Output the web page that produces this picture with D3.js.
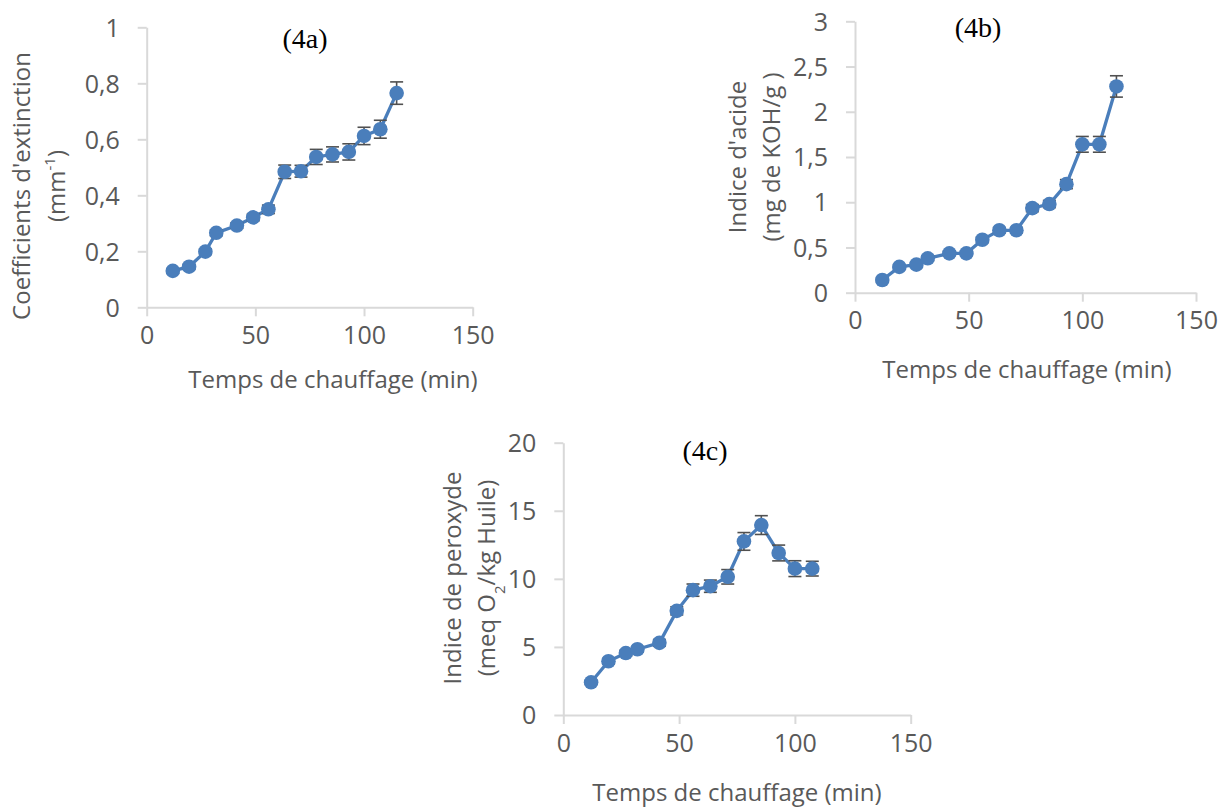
<!DOCTYPE html>
<html>
<head>
<meta charset="utf-8">
<script src="https://cdn.jsdelivr.net/npm/d3@7/dist/d3.min.js"></script>
<style>
  html, body { margin: 0; padding: 0; background: #fff; }
  svg { display: block; }
  text { font-family: "Open Sans", sans-serif; fill: #595959; }
  .panel-title { font-family: "Liberation Serif", serif; fill: #000; }
</style>
</head>
<body>
<svg id="chart" width="1220" height="807"></svg>
<script>
// heating time (min) shared by the three series
const times = [12, 19.5, 27, 32, 41.5, 49, 56, 63.5, 71, 78, 85.5, 93, 100, 107.5, 115];

// (4a) extinction coefficients
const extinction    = [0.13, 0.145, 0.199, 0.266, 0.292, 0.321, 0.35, 0.484, 0.486, 0.537, 0.546, 0.555, 0.612, 0.636, 0.765];
const extinctionErr = [0.008, 0.008, 0.01, 0.01, 0.01, 0.012, 0.015, 0.024, 0.021, 0.027, 0.027, 0.029, 0.031, 0.032, 0.04];

// (4b) acid value
const acid    = [0.14, 0.285, 0.31, 0.38, 0.435, 0.435, 0.585, 0.69, 0.69, 0.935, 0.98, 1.2, 1.64, 1.64, 2.28];
const acidErr = [0.02, 0.02, 0.02, 0.025, 0.025, 0.025, 0.03, 0.03, 0.03, 0.04, 0.04, 0.05, 0.087, 0.087, 0.118];

// (4c) peroxide value (no value at 115 min)
const peroxide    = [2.4, 3.95, 4.55, 4.83, 5.3, 7.65, 9.17, 9.46, 10.15, 12.75, 13.95, 11.9, 10.75, 10.75];
const peroxideErr = [0.15, 0.2, 0.2, 0.2, 0.25, 0.3, 0.45, 0.45, 0.53, 0.65, 0.69, 0.58, 0.58, 0.54];

const xTicks = [0, 50, 100, 150];
const yTicksA = [0, 0.2, 0.4, 0.6, 0.8, 1];
const yTicksB = [0, 0.5, 1, 1.5, 2, 2.5, 3];
const yTicksC = [0, 5, 10, 15, 20];

const fr = d3.formatLocale({decimal: ",", thousands: " ", grouping: [3], currency: ["", "€"]});
const fmt = fr.format("~g");

const svg = d3.select("#chart");
const blue = "#4a7ebb";
const axisGrey = "#d9d9d9";

function drawPanel(cfg) {
  const x = d3.scaleLinear().domain([0, 150]).range([cfg.left, cfg.right]);
  const y = d3.scaleLinear().domain([0, cfg.yMax]).range([cfg.bottom, cfg.top]);
  const g = svg.append("g");

  // axes
  const xAxis = g.append("g")
    .attr("transform", `translate(0,${cfg.bottom})`)
    .call(d3.axisBottom(x).tickValues(xTicks).tickSize(9).tickPadding(10).tickSizeOuter(0).tickFormat(d3.format("d")));
  const yAxis = g.append("g")
    .attr("transform", `translate(${cfg.left},0)`)
    .call(d3.axisLeft(y).tickValues(cfg.yTicks).tickSize(9).tickPadding(18).tickSizeOuter(0).tickFormat(fmt));
  [xAxis, yAxis].forEach(a => {
    a.select(".domain").attr("stroke", axisGrey).attr("stroke-width", 2);
    a.selectAll(".tick line").attr("stroke", axisGrey).attr("stroke-width", 2);
    a.selectAll(".tick text").attr("fill", "#595959")
      .style("font-family", "'Open Sans', sans-serif").style("font-size", "25px");
  });
  yAxis.selectAll(".tick text").attr("dy", "0.35em");
  xAxis.selectAll(".tick text").attr("dy", "0.71em");

  const pts = cfg.values.map((v, i) => ({t: times[i], v: v, e: cfg.errors[i]}));

  // connecting line
  g.append("path")
    .datum(pts)
    .attr("fill", "none")
    .attr("stroke", blue)
    .attr("stroke-width", 3.3)
    .attr("d", d3.line().x(d => x(d.t)).y(d => y(d.v)));

  // error bars
  const eb = g.append("g").attr("stroke", "#505050").attr("stroke-width", 1.6);
  pts.forEach(d => {
    const cx = x(d.t), y0 = y(d.v - d.e), y1 = y(d.v + d.e);
    eb.append("line").attr("x1", cx).attr("x2", cx).attr("y1", y0).attr("y2", y1);
    eb.append("line").attr("x1", cx - 6.5).attr("x2", cx + 6.5).attr("y1", y0).attr("y2", y0);
    eb.append("line").attr("x1", cx - 6.5).attr("x2", cx + 6.5).attr("y1", y1).attr("y2", y1);
  });

  // markers
  g.append("g").selectAll("circle").data(pts).join("circle")
    .attr("cx", d => x(d.t)).attr("cy", d => y(d.v)).attr("r", 7.3)
    .attr("fill", blue);

  // panel title
  g.append("text").attr("class", "panel-title")
    .attr("x", cfg.title[1]).attr("y", cfg.title[2]).attr("dy", "0.35em")
    .attr("text-anchor", "middle").style("font-size", "28px")
    .text(cfg.title[0]);

  // x axis title
  g.append("text")
    .attr("x", cfg.xTitle[0]).attr("y", cfg.xTitle[1]).attr("dy", "0.35em")
    .attr("text-anchor", "middle").style("font-size", "24px")
    .text("Temps de chauffage (min)");

  // y axis title, two rotated lines
  cfg.yTitle.forEach((line, i) => {
    const t = g.append("text")
      .attr("transform", `translate(${cfg.yTitleX[i]},${cfg.yTitleY}) rotate(-90)`)
      .attr("dy", "0.35em")
      .attr("text-anchor", "middle").style("font-size", "24px");
    line.forEach(part => {
      const s = t.append("tspan").text(part.t);
      if (part.sup) s.attr("baseline-shift", "super").style("font-size", "15px");
      if (part.sub) s.attr("baseline-shift", "sub").style("font-size", "15px");
    });
  });
}

drawPanel({
  left: 146.7, right: 472.7, top: 27.3, bottom: 307.3, yMax: 1, yTicks: yTicksA,
  values: extinction, errors: extinctionErr,
  title: ["(4a)", 305, 38],
  xTitle: [333, 380],
  yTitle: [[{t: "Coefficients d'extinction"}], [{t: "(mm"}, {t: "-1", sup: true}, {t: ")"}]],
  yTitleX: [22, 57], yTitleY: 186
});

drawPanel({
  left: 855, right: 1196, top: 21.3, bottom: 292.7, yMax: 3, yTicks: yTicksB,
  values: acid, errors: acidErr,
  title: ["(4b)", 978, 27],
  xTitle: [1027, 370],
  yTitle: [[{t: "Indice d'acide"}], [{t: "(mg de KOH/g )"}]],
  yTitleX: [738, 772], yTitleY: 157
});

drawPanel({
  left: 563.3, right: 910.7, top: 442.7, bottom: 715, yMax: 20, yTicks: yTicksC,
  values: peroxide, errors: peroxideErr,
  title: ["(4c)", 705, 450],
  xTitle: [737, 793],
  yTitle: [[{t: "Indice de peroxyde"}], [{t: "(meq O"}, {t: "2", sub: true}, {t: "/kg Huile)"}]],
  yTitleX: [453, 487], yTitleY: 578
});
</script>
</body>
</html>
